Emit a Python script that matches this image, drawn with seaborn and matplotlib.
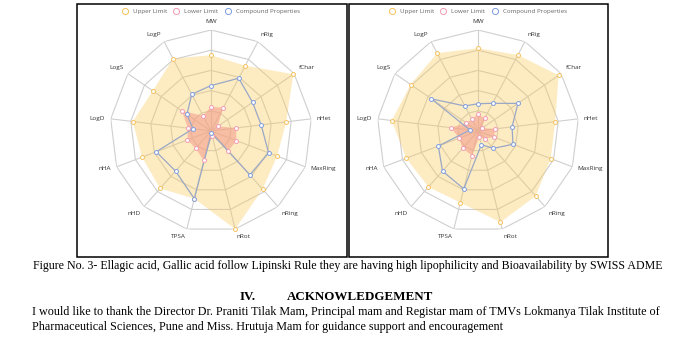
import numpy as np
import pandas as pd
import matplotlib
matplotlib.use("Agg")
import matplotlib.pyplot as plt
from matplotlib.lines import Line2D
from matplotlib.patches import Rectangle
import seaborn as sns

# Physicochemical axes of the ADMET radar, clockwise from the top
properties = ["MW", "nRig", "fChar", "nHet", "MaxRing", "nRing", "nRot",
              "TPSA", "nHD", "nHA", "LogD", "LogS", "LogP"]

# Ellagic acid (normalised 0-1 scale)
ellagic_upper = [0.75, 0.73, 0.99, 0.75, 0.70, 0.77, 1.00, 0.69, 0.76, 0.73, 0.78, 0.70, 0.81]
ellagic_lower = [0.24, 0.26, 0.08, 0.25, 0.27, 0.26, 0.05, 0.30, 0.23, 0.25, 0.23, 0.35, 0.17]
ellagic_compound = [0.45, 0.59, 0.50, 0.50, 0.61, 0.58, 0.02, 0.69, 0.53, 0.58, 0.18, 0.29, 0.41]

# Gallic acid (normalised 0-1 scale)
gallic_upper = [0.82, 0.85, 0.97, 0.77, 0.77, 0.86, 0.93, 0.73, 0.74, 0.76, 0.86, 0.81, 0.87]
gallic_lower = [0.17, 0.14, 0.05, 0.17, 0.17, 0.10, 0.06, 0.25, 0.23, 0.20, 0.27, 0.14, 0.13]
gallic_compound = [0.27, 0.31, 0.48, 0.34, 0.37, 0.23, 0.14, 0.59, 0.53, 0.42, 0.08, 0.56, 0.28]

legend_labels = ["Upper Limit", "Lower Limit", "Compound Properties"]
ring_levels = [0.2, 0.4, 0.6, 0.8, 1.0]

caption = ("Figure No. 3- Ellagic acid, Gallic acid follow Lipinski Rule they are having "
           "high lipophilicity and Bioavailability by SWISS ADME")
heading_num = "IV."
heading = "ACKNOWLEDGEMENT"
para_1 = ("I would like to thank the Director Dr. Praniti Tilak Mam, Principal mam and "
          "Registar mam of TMVs Lokmanya Tilak Institute of")
para_2 = ("Pharmaceutical Sciences, Pune and Miss. Hrutuja Mam for guidance support "
          "and encouragement")

sns.set_theme(style="white")
plt.rcParams["font.family"] = ["Open Sans", "DejaVu Sans"]

UPPER_C = "#FAC858"
UPPER_MK = "#F5C15C"
LOWER_C = "#F49A8C"
LOWER_MK = "#F29BB2"
COMP_LINE = "#9AA8C6"
COMP_MK = "#7F9DDF"
GRID_C = "#CFCFCF"

W, H = 676, 347
fig = plt.figure(figsize=(W / 100, H / 100), dpi=100)
fig.patch.set_facecolor("white")

n = len(properties)
theta = np.arange(n) * 2 * np.pi / n


def closed(vals):
    return np.append(vals, vals[0])


def radar(cx, cy, radius, upper, lower, compound):
    ax = fig.add_axes([(cx - radius) / W, (H - cy - radius) / H,
                       2 * radius / W, 2 * radius / H], projection="polar")
    ax.set_theta_zero_location("N")
    ax.set_theta_direction(-1)
    ax.set_ylim(0, 1)
    ax.axis("off")

    df = pd.DataFrame({"property": properties, "theta": theta,
                       "upper": upper, "lower": lower, "compound": compound})
    loop = pd.concat([df, df.iloc[[0]]], ignore_index=True)

    # polygonal web
    for lvl in ring_levels:
        ax.plot(closed(theta), [lvl] * (n + 1), color=GRID_C, lw=0.8, zorder=1)
    for t in theta:
        ax.plot([t, t], [0, 1], color=GRID_C, lw=0.8, zorder=1)

    ax.fill(loop["theta"], loop["upper"], color=UPPER_C, alpha=0.36, lw=0, zorder=2)
    ax.fill(loop["theta"], loop["lower"], color=LOWER_C, alpha=0.55, lw=0, zorder=2)

    sns.lineplot(data=loop, x="theta", y="compound", sort=False, estimator=None,
                 color=COMP_LINE, lw=0.9, ax=ax, zorder=3)

    for col, mk in (("upper", UPPER_MK), ("lower", LOWER_MK), ("compound", COMP_MK)):
        sns.scatterplot(data=df, x="theta", y=col, ax=ax, marker="o", s=8,
                        color="white", edgecolor=mk, linewidth=0.7, zorder=4,
                        clip_on=False)

    ax.set_xlabel("")
    ax.set_ylabel("")

    # axis names just beyond the outer vertices
    gap = 4.0
    for t, name in zip(theta, properties):
        sx, cy_ = np.sin(t), np.cos(t)
        ha = "center" if abs(sx) < 0.1 else ("left" if sx > 0 else "right")
        va = "bottom" if cy_ > 0.5 else ("top" if cy_ < -0.5 else "center")
        ax.annotate(name, xy=(t, 1.0), xytext=(gap * sx, gap * cy_),
                    textcoords="offset points", ha=ha, va=va, fontsize=4.6,
                    color="#333333", annotation_clip=False)

    handles = [Line2D([], [], ls="", marker="o", ms=4.4, mfc="white", mec=c, mew=0.7)
               for c in (UPPER_MK, LOWER_MK, COMP_MK)]
    ax.legend(handles, legend_labels, loc="center",
              bbox_to_anchor=(0.5, 0.5 + (cy - 11) / (2 * radius)),
              ncol=3, frameon=False, fontsize=4.5, handlelength=0.8,
              handletextpad=0.9, columnspacing=1.1, borderpad=0,
              labelcolor="#666666")
    return ax


radar(211, 131, 101, ellagic_upper, ellagic_lower, ellagic_compound)
radar(478, 131, 101, gallic_upper, gallic_lower, gallic_compound)

# frames around the two panels
for x0, x1 in ((77, 347), (349, 608)):
    fig.add_artist(Rectangle((x0 / W, 1 - 257 / H), (x1 - x0) / W, 253 / H,
                             transform=fig.transFigure, fill=False,
                             ec="black", lw=1.1))

renderer = fig.canvas.get_renderer()
SERIF = ["Liberation Serif"]


def put(s, x, y, size, **kw):
    return fig.text(x / W, 1 - y / H, s, ha="left", va="baseline", family=SERIF,
                    color="black", fontsize=size, **kw)


def fit(artist, width_px):
    w = artist.get_window_extent(renderer).width
    artist.set_fontsize(artist.get_fontsize() * width_px / w)
    return artist.get_fontsize()


# caption spans the column (baselines in pixels from the top)
cap = put(caption, 33, 268.5, 9)
fit(cap, 663 - 33)

# section heading
head = put(heading, 287, 300.5, 9, weight="bold")
hsize = fit(head, 433 - 287)
put(heading_num, 240, 300.5, hsize, weight="bold")

# body: the full first line spans the column, the closing line shares its size
line1 = put(para_1, 32, 315.5, 9)
body = fit(line1, 663 - 32)
put(para_2, 32, 330, body)

fig.savefig("out.png", dpi=100, facecolor="white")
